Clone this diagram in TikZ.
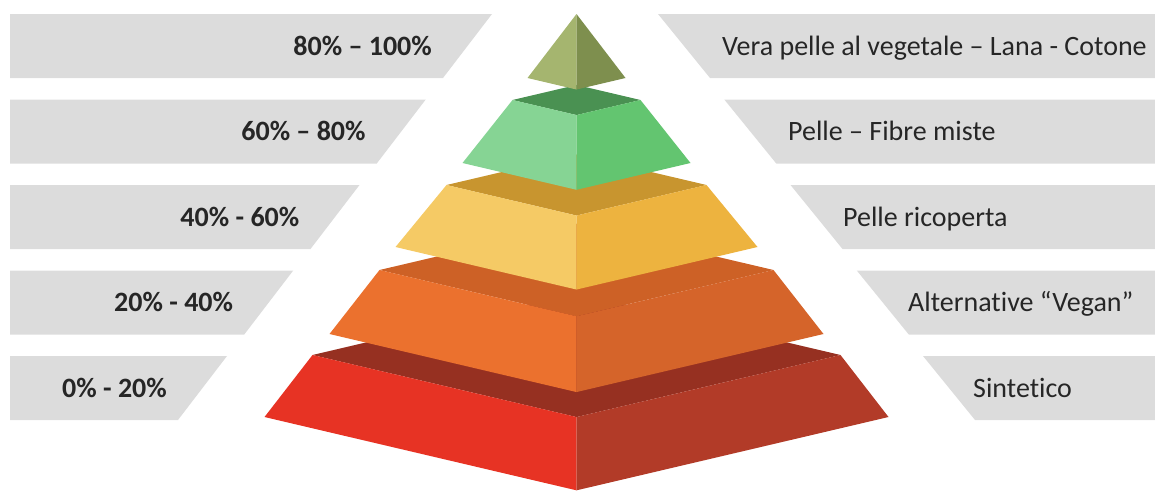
\documentclass[tikz,border=0pt]{standalone}
\usepackage{fontspec}
\setmainfont{Carlito}[Ligatures={TeX,NoCommon}]
\definecolor{bargray}{HTML}{DCDCDC}
\definecolor{txtgray}{HTML}{262626}
\definecolor{top1}{HTML}{7E8F4E}
\definecolor{lft1}{HTML}{A5B56F}
\definecolor{rgt1}{HTML}{7E8F4E}
\definecolor{top2}{HTML}{4A9152}
\definecolor{lft2}{HTML}{86D494}
\definecolor{rgt2}{HTML}{63C570}
\definecolor{top3}{HTML}{C8952F}
\definecolor{lft3}{HTML}{F5CA65}
\definecolor{rgt3}{HTML}{EDB33F}
\definecolor{top4}{HTML}{CD6126}
\definecolor{lft4}{HTML}{EB712E}
\definecolor{rgt4}{HTML}{D5642A}
\definecolor{top5}{HTML}{963021}
\definecolor{lft5}{HTML}{E73324}
\definecolor{rgt5}{HTML}{B23B28}
\tikzset{
  bar/.style={fill=bargray},
  pct/.style={anchor=east, inner sep=0pt, text height=18pt, text depth=0pt,
    text=txtgray, font=\fontsize{28}{32}\selectfont\bfseries},
  mat/.style={anchor=west, inner sep=0pt, text height=18pt, text depth=0pt,
    text=txtgray, font=\fontsize{28}{32}\selectfont}
}
\begin{document}
\begin{tikzpicture}[x=1pt,y=-1pt]
  \useasboundingbox (0,0) rectangle (1155,491);
  \foreach \i/\xm/\p/\m in {0/722/{80\% -- 100\%}/{Vera pelle al vegetale -- Lana - Cotone},
                            1/788/{60\% -- 80\%}/{Pelle -- Fibre miste},
                            2/843/{40\% - 60\%}/{Pelle ricoperta},
                            3/908/{20\% - 40\%}/{Alternative “Vegan”},
                            4/973/{0\% - 20\%}/{Sintetico}}
  {
    \fill[bar] (10,{14+85.5*\i}) -- ({492-66.25*\i},{14+85.5*\i}) -- ++(-49,64) -- (10,{78+85.5*\i}) -- cycle;
    \fill[bar] ({658+66.25*\i},{14+85.5*\i}) -- (1155,{14+85.5*\i}) -- (1155,{78+85.5*\i}) -- ({710+66.25*\i},{78+85.5*\i}) -- cycle;
    \node[pct] (pct\i) at ({432-66.25*\i},{46+85.5*\i}) {\p};
    \node[mat] (mat\i) at (\xm,{46+85.5*\i}) {\m};
  }
  \foreach \yt/\wt/\yb/\wb/\n in {355/264/417/312/5, 270/197/334/247/4, 185/130/247/181/3, 100/64/163/114/2, 14/0/78/49/1}
  {
    \fill[top\n] ({576.5-\wt},\yt) -- (576.5,{\yt-0.235*\wt}) -- ({576.5+\wt},\yt) -- (576.5,{\yt+0.235*\wt}) -- cycle;
    \fill[lft\n] ({576.5-\wt},\yt) -- (576.5,{\yt+0.235*\wt}) -- (576.5,{\yb+0.235*\wb}) -- ({576.5-\wb},\yb) -- cycle;
    \fill[rgt\n] ({576.5+\wt},\yt) -- (576.5,{\yt+0.235*\wt}) -- (576.5,{\yb+0.235*\wb}) -- ({576.5+\wb},\yb) -- cycle;
  }
\end{tikzpicture}
\end{document}
